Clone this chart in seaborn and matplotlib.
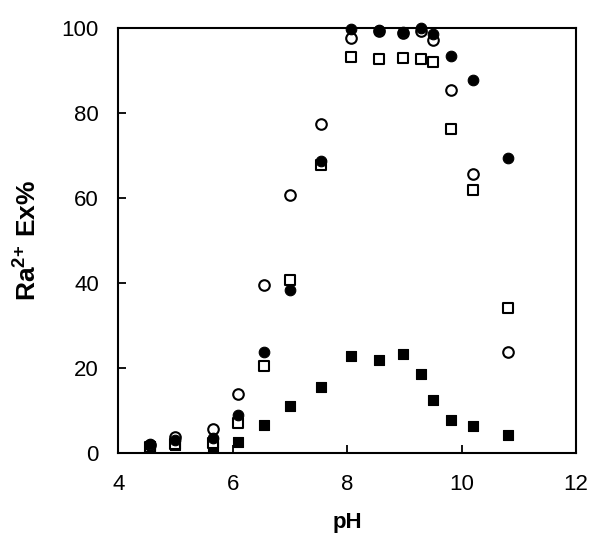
import matplotlib
matplotlib.use("Agg")
import matplotlib.pyplot as plt
import seaborn as sns

# pH of each measurement
ph = [4.55, 5.0, 5.65, 6.1, 6.55, 7.0, 7.55, 8.07, 8.56, 8.98, 9.3, 9.5, 9.82, 10.2, 10.81]

# Ra2+ extraction (%) for the four systems
filled_circle = [2.2, 3.0, 3.5, 9.0, 23.8, 38.5, 68.7, 99.8, 99.5, 99.0, 100.0, 98.6, 93.4, 87.8, 69.4]
open_circle = [2.0, 3.8, 5.6, 13.9, 39.6, 60.7, 77.5, 97.6, 99.3, 98.8, 99.3, 97.3, 85.4, 65.6, 23.8]
open_square = [1.5, 2.2, 2.5, 7.0, 20.5, 40.7, 67.7, 93.3, 92.8, 93.0, 92.8, 92.0, 76.2, 62.0, 34.2]
filled_square = [1.7, 2.0, 1.5, 2.7, 6.7, 11.0, 15.6, 22.8, 22.0, 23.4, 18.6, 12.4, 7.9, 6.4, 4.2]

x_ticks = [4, 6, 8, 10, 12]
y_ticks = [0, 20, 40, 60, 80, 100]

sns.set_style("white")
plt.rcParams["font.family"] = ["Liberation Sans", "DejaVu Sans"]
plt.rcParams["mathtext.fontset"] = "custom"
plt.rcParams["mathtext.bf"] = "Liberation Sans:bold"
plt.rcParams["mathtext.rm"] = "Liberation Sans"
plt.rcParams["text.color"] = "black"
plt.rcParams["axes.labelcolor"] = "black"
plt.rcParams["xtick.color"] = "black"
plt.rcParams["ytick.color"] = "black"

fig = plt.figure(figsize=(6.0, 5.52), dpi=100)
ax = fig.add_axes([0.197, 0.179, 0.763, 0.770])

ms = 58
series = [
    (filled_square, "s", "black", 0.8, 3),
    (open_square, "s", "white", 1.5, 3),
    (filled_circle, "o", "black", 0.8, 4),
    (open_circle, "o", "white", 1.5, 3),
]
for vals, mk, face, lw, z in series:
    sns.scatterplot(x=ph, y=vals, marker=mk, s=ms, facecolor=face,
                    edgecolor="black", linewidth=lw, ax=ax, zorder=z,
                    clip_on=False)

ax.set_xlim(4, 12)
ax.set_ylim(0, 100)
ax.set_xticks(x_ticks)
ax.set_yticks(y_ticks)
ax.tick_params(direction="in", length=6, width=1.3, labelsize=16,
               top=False, right=False, bottom=True, left=True)
ax.tick_params(axis="y", pad=14)
ax.tick_params(axis="x", pad=15)
for sp in ax.spines.values():
    sp.set_visible(True)
    sp.set_color("black")
    sp.set_linewidth(1.5)

ax.set_xlabel("pH", fontsize=16, fontweight="bold", labelpad=12)
ax.set_ylabel(r"$\mathbf{Ra^{2{+}}\ Ex\%}$", fontsize=19, labelpad=14)

fig.savefig("out.png", dpi=100)
